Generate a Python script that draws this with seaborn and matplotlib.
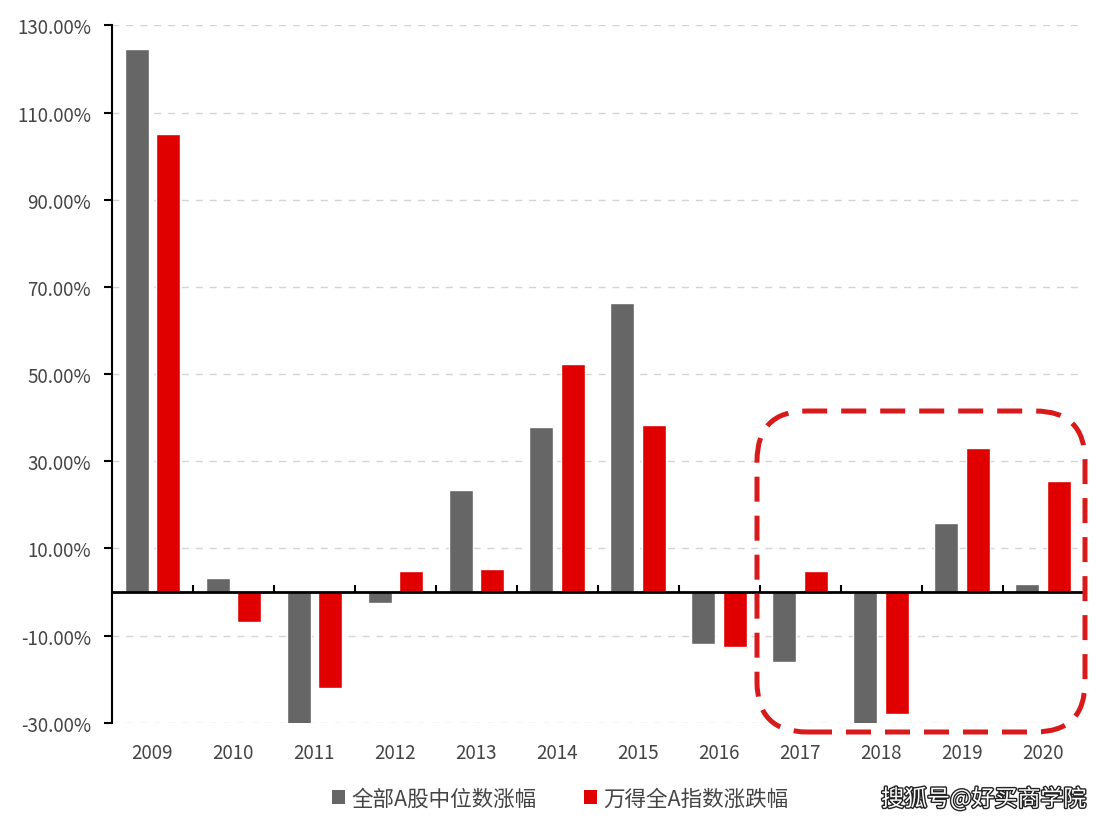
import matplotlib
matplotlib.use("Agg")
import matplotlib.pyplot as plt
import matplotlib.patheffects as pe
from matplotlib.patches import FancyBboxPatch, Patch
import seaborn as sns
import pandas as pd

# ---- data ----
years = ["2009", "2010", "2011", "2012", "2013", "2014",
         "2015", "2016", "2017", "2018", "2019", "2020"]
median_chg = [124.6, 3.2, -31.0, -2.5, 23.5, 37.9, 66.2, -11.9, -16.1, -31.0, 15.8, 1.8]
wind_chg = [105.1, -6.9, -22.1, 4.8, 5.3, 52.2, 38.3, -12.6, 4.8, -28.0, 33.1, 25.5]
series_names = ["全部A股中位数涨幅", "万得全A指数涨跌幅"]
yticks = [-30, -10, 10, 30, 50, 70, 90, 110, 130]
watermark = "搜狐号@好买商学院"

colors = ["#666666", "#e00000"]

df = pd.DataFrame({
    "year": years * 2,
    "value": median_chg + wind_chg,
    "series": [series_names[0]] * len(years) + [series_names[1]] * len(years),
})

sns.set_theme(style="white")
plt.rcParams["font.family"] = ["Noto Sans CJK SC", "DejaVu Sans"]

fig = plt.figure(figsize=(11.08, 8.28), dpi=100)
ax = fig.add_axes([0.101, 0.126, 0.877, 0.842])

sns.barplot(data=df, x="year", y="value", hue="series", order=years,
            hue_order=series_names, palette=colors, width=0.78, gap=0.24,
            saturation=1, ax=ax, legend=False)

ax.set_xlim(-0.5, len(years) - 0.5)
ax.set_ylim(-30, 130)
ax.set_yticks(yticks)
ax.set_yticklabels([f"{v:.2f}%" for v in yticks], fontsize=13.5, color="#444444")
ax.set_xticks(range(len(years)))
ax.set_xticklabels(years, fontsize=13.5, color="#444444")
ax.tick_params(axis="x", length=0, pad=14)
ax.tick_params(axis="y", length=6, width=1.5, color="black", direction="out",
               left=True, pad=9)
ax.set_xlabel("")
ax.set_ylabel("")

for s in ["top", "right", "bottom"]:
    ax.spines[s].set_visible(False)
ax.spines["left"].set_color("black")
ax.spines["left"].set_linewidth(1.5)

# dashed gridlines
for v in yticks:
    ax.axhline(v, color="#d4d4d4", lw=1.0, ls=(0, (5, 5)), zorder=0)
ax.axhline(0, color="black", lw=2.0, zorder=3)

# category boundary ticks on zero line
for i in range(len(years) - 1):
    ax.vlines(i + 0.5, 0, 1.6, color="black", lw=1.5, zorder=3)

# legend
handles = [Patch(facecolor=c, edgecolor="none") for c in colors]
fig.legend(handles, series_names, loc="center", bbox_to_anchor=(0.506, 0.034),
           ncol=2, frameon=False, fontsize=15.5, handlelength=0.6, handleheight=0.6,
           handletextpad=0.3, columnspacing=2.2, labelcolor="#444444")

# highlight box (pixel space)
box = FancyBboxPatch((7.57, 0.95), 3.28, 3.21,
                     boxstyle="round,pad=0,rounding_size=0.5",
                     transform=fig.dpi_scale_trans, fill=False,
                     edgecolor="#d91a1a", lw=3.6, ls=(0, (5, 2.8)),
                     clip_on=False, zorder=5)
fig.add_artist(box)

# watermark
fig.text(0.98, 0.034, watermark, ha="right", va="center", fontsize=16.5,
         color="white", fontweight="medium",
         path_effects=[pe.withStroke(linewidth=2.0, foreground="#222222")])

fig.savefig("out.png", dpi=100, facecolor="white")
